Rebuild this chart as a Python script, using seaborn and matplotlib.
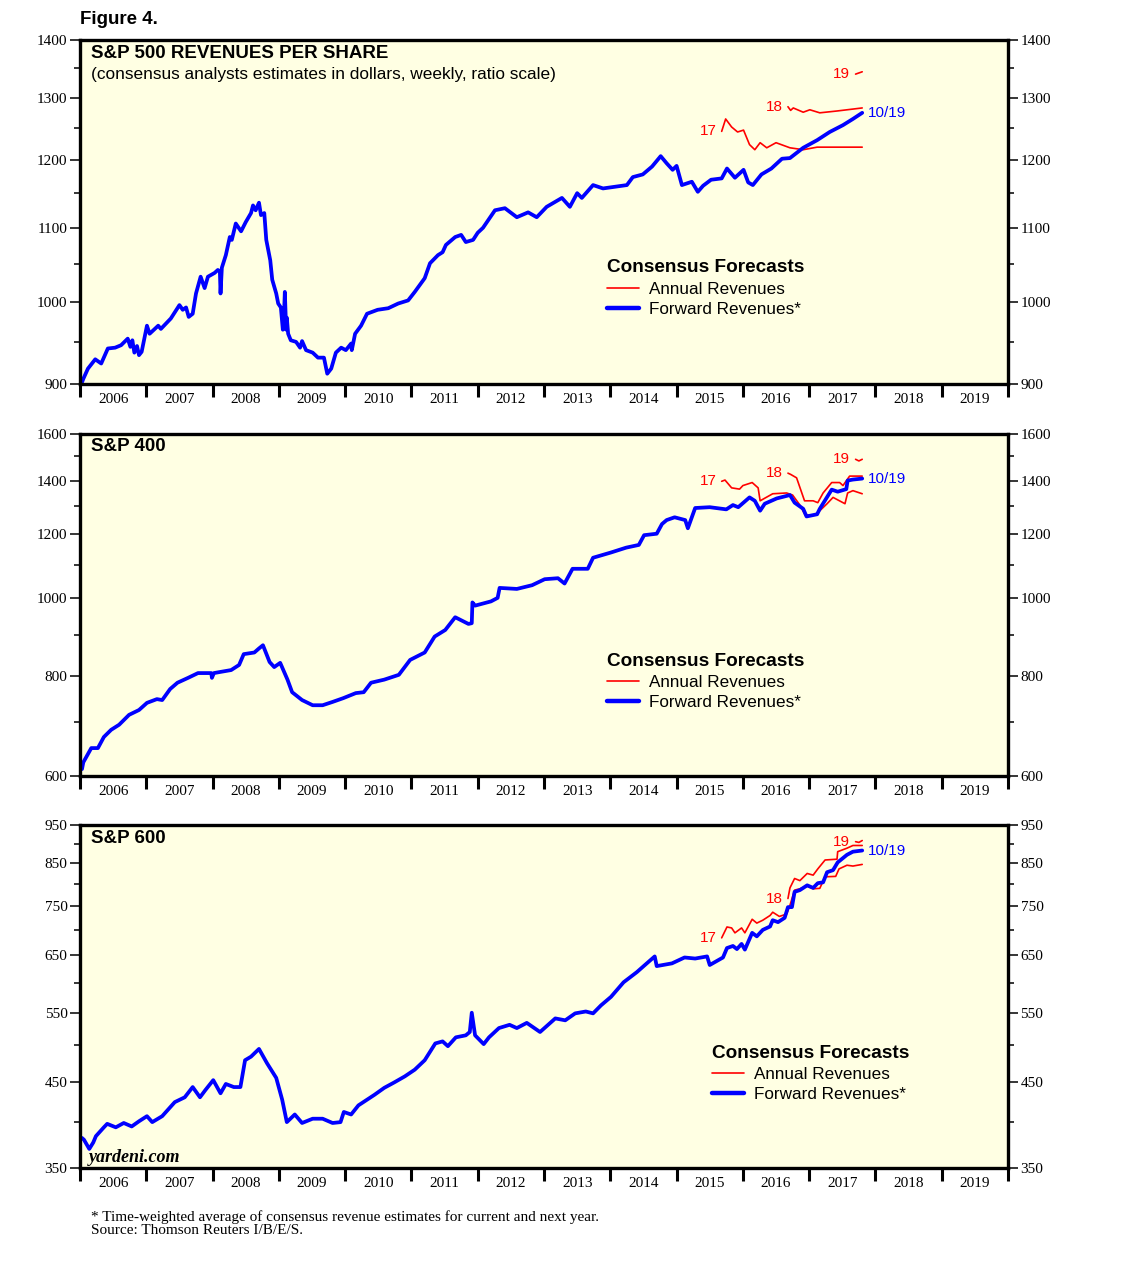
import matplotlib
matplotlib.use("Agg")
import matplotlib.pyplot as plt
import matplotlib.ticker as mticker
from matplotlib.lines import Line2D
import seaborn as sns

# values: time in decimal years, dollars per share

# S&P 500
sp500_fwd_t = [2006.03, 2006.05, 2006.12, 2006.23, 2006.32, 2006.42, 2006.53, 2006.62, 2006.72, 2006.76,
               2006.79, 2006.82, 2006.86, 2006.89, 2006.93, 2006.98, 2007.01, 2007.05, 2007.18, 2007.22,
               2007.37, 2007.50, 2007.55, 2007.60, 2007.64, 2007.70, 2007.75, 2007.82, 2007.88, 2007.93,
               2008.03, 2008.08, 2008.11, 2008.12, 2008.14, 2008.20, 2008.26, 2008.29, 2008.35, 2008.43,
               2008.50, 2008.58, 2008.61, 2008.65, 2008.70, 2008.73, 2008.78, 2008.81, 2008.87, 2008.90,
               2008.96, 2008.99, 2009.03, 2009.06, 2009.08, 2009.09, 2009.11, 2009.12, 2009.14, 2009.18,
               2009.26, 2009.32, 2009.35, 2009.41, 2009.51, 2009.59, 2009.68, 2009.73, 2009.79, 2009.86,
               2009.94, 2010.01, 2010.09, 2010.10, 2010.15, 2010.24, 2010.33, 2010.49, 2010.65, 2010.80,
               2010.95, 2011.05, 2011.20, 2011.28, 2011.40, 2011.47, 2011.52, 2011.66, 2011.75, 2011.82,
               2011.93, 2012.00, 2012.08, 2012.26, 2012.41, 2012.59, 2012.76, 2012.89, 2013.04, 2013.27,
               2013.39, 2013.50, 2013.57, 2013.74, 2013.89, 2014.10, 2014.25, 2014.34, 2014.49, 2014.63,
               2014.76, 2014.85, 2014.94, 2015.00, 2015.08, 2015.23, 2015.32, 2015.40, 2015.52, 2015.68,
               2015.76, 2015.88, 2016.01, 2016.08, 2016.15, 2016.28, 2016.43, 2016.59, 2016.71, 2016.91,
               2017.12, 2017.31, 2017.51, 2017.66, 2017.80]
sp500_fwd_v = [902, 906, 918, 929, 924, 942, 943, 946, 954, 944,
               952, 937, 945, 934, 938, 958, 970, 960, 970, 966,
               979, 996, 990, 993, 981, 985, 1011, 1033, 1018, 1033,
               1038, 1042, 1040, 1011, 1045, 1062, 1087, 1083, 1106, 1095,
               1108, 1121, 1132, 1125, 1136, 1118, 1121, 1083, 1055, 1029,
               1011, 998, 993, 965, 990, 1013, 965, 980, 960, 952,
               950, 943, 951, 940, 937, 931, 931, 912, 918, 937,
               943, 940, 948, 940, 960, 970, 985, 990, 992, 998,
               1002, 1013, 1031, 1051, 1062, 1066, 1076, 1087, 1090, 1080,
               1083, 1093, 1100, 1125, 1128, 1115, 1122, 1115, 1130, 1143,
               1130, 1150, 1143, 1162, 1157, 1160, 1162, 1174, 1178, 1190,
               1206, 1195, 1185, 1191, 1162, 1167, 1152, 1161, 1170, 1172,
               1187, 1173, 1185, 1166, 1162, 1178, 1187, 1202, 1203, 1219,
               1231, 1244, 1255, 1265, 1275]
sp500_y17_t = [2015.68, 2015.74, 2015.83, 2015.92, 2016.01, 2016.10, 2016.18, 2016.26, 2016.36, 2016.50,
               2016.71, 2016.91, 2017.12, 2017.42, 2017.80]
sp500_y17_v = [1245, 1265, 1252, 1244, 1247, 1224, 1216, 1227, 1219, 1227,
               1219, 1216, 1220, 1220, 1220]
sp500_y18_t = [2016.68, 2016.72, 2016.76, 2016.91, 2017.01, 2017.16, 2017.42, 2017.80]
sp500_y18_v = [1285, 1279, 1283, 1276, 1280, 1275, 1278, 1283]
sp500_y19_t = [2017.70, 2017.80]
sp500_y19_v = [1340, 1344]

# S&P 400
sp400_fwd_t = [2006.03, 2006.05, 2006.17, 2006.27, 2006.36, 2006.47, 2006.59, 2006.74, 2006.89, 2007.01,
               2007.16, 2007.24, 2007.36, 2007.47, 2007.63, 2007.78, 2007.98, 2007.99, 2008.02, 2008.13,
               2008.28, 2008.40, 2008.47, 2008.63, 2008.70, 2008.76, 2008.86, 2008.93, 2009.02, 2009.13,
               2009.20, 2009.35, 2009.51, 2009.66, 2009.81, 2009.97, 2010.16, 2010.28, 2010.39, 2010.59,
               2010.81, 2010.98, 2011.20, 2011.35, 2011.51, 2011.66, 2011.86, 2011.91, 2011.92, 2011.96,
               2012.20, 2012.30, 2012.33, 2012.59, 2012.82, 2013.01, 2013.21, 2013.31, 2013.43, 2013.66,
               2013.74, 2014.01, 2014.24, 2014.43, 2014.51, 2014.70, 2014.78, 2014.85, 2014.97, 2015.13,
               2015.17, 2015.28, 2015.50, 2015.75, 2015.85, 2015.93, 2016.10, 2016.18, 2016.26, 2016.33,
               2016.51, 2016.71, 2016.78, 2016.91, 2016.96, 2017.12, 2017.16, 2017.34, 2017.43, 2017.56,
               2017.58, 2017.66, 2017.80]
sp400_fwd_v = [612, 624, 650, 650, 671, 685, 695, 715, 725, 740,
               748, 746, 770, 784, 795, 806, 806, 795, 806, 809,
               813, 825, 851, 855, 865, 873, 832, 820, 830, 791,
               763, 746, 735, 735, 742, 750, 761, 763, 784, 791,
               802, 837, 855, 895, 912, 946, 928, 930, 987, 978,
               990, 1000, 1029, 1026, 1037, 1055, 1058, 1042, 1087, 1087,
               1122, 1139, 1155, 1164, 1197, 1202, 1236, 1250, 1260, 1250,
               1221, 1294, 1297, 1289, 1305, 1297, 1334, 1321, 1284, 1310,
               1330, 1343, 1314, 1291, 1263, 1271, 1291, 1364, 1356, 1366,
               1400, 1404, 1408]
sp400_y17_t = [2015.68, 2015.73, 2015.83, 2015.95, 2016.00, 2016.14, 2016.23, 2016.26, 2016.45, 2016.66,
               2016.75, 2016.86, 2016.94, 2017.07, 2017.13, 2017.27, 2017.36, 2017.54, 2017.58, 2017.66,
               2017.80]
sp400_y17_v = [1397, 1402, 1371, 1366, 1380, 1392, 1371, 1321, 1348, 1351,
               1343, 1305, 1268, 1268, 1277, 1310, 1334, 1310, 1351, 1360,
               1348]
sp400_y18_t = [2016.68, 2016.72, 2016.81, 2016.93, 2017.06, 2017.13, 2017.21, 2017.34, 2017.46, 2017.51,
               2017.61, 2017.80]
sp400_y18_v = [1430, 1425, 1411, 1321, 1321, 1314, 1351, 1392, 1392, 1380,
               1418, 1418]
sp400_y19_t = [2017.70, 2017.75, 2017.80]
sp400_y19_v = [1488, 1481, 1488]

# S&P 600
sp600_fwd_t = [2006.03, 2006.06, 2006.14, 2006.20, 2006.24, 2006.36, 2006.41, 2006.54, 2006.66, 2006.78,
               2006.89, 2007.01, 2007.09, 2007.24, 2007.43, 2007.58, 2007.70, 2007.81, 2007.89, 2008.01,
               2008.12, 2008.20, 2008.32, 2008.42, 2008.49, 2008.58, 2008.70, 2008.82, 2008.96, 2009.05,
               2009.12, 2009.24, 2009.35, 2009.51, 2009.66, 2009.81, 2009.93, 2009.98, 2010.09, 2010.20,
               2010.44, 2010.59, 2010.74, 2010.90, 2011.05, 2011.20, 2011.36, 2011.47, 2011.55, 2011.67,
               2011.82, 2011.88, 2011.91, 2011.96, 2012.09, 2012.17, 2012.32, 2012.48, 2012.59, 2012.74,
               2012.94, 2013.17, 2013.32, 2013.47, 2013.63, 2013.74, 2013.86, 2014.01, 2014.20, 2014.40,
               2014.55, 2014.67, 2014.70, 2014.93, 2015.12, 2015.28, 2015.46, 2015.50, 2015.70, 2015.76,
               2015.85, 2015.91, 2015.98, 2016.03, 2016.14, 2016.21, 2016.30, 2016.41, 2016.45, 2016.53,
               2016.63, 2016.68, 2016.74, 2016.78, 2016.86, 2016.97, 2017.06, 2017.13, 2017.21, 2017.27,
               2017.36, 2017.43, 2017.57, 2017.66, 2017.80]
sp600_fwd_v = [382, 380, 370, 377, 384, 394, 398, 394, 399, 395,
               401, 407, 400, 407, 424, 430, 443, 430, 439, 452,
               435, 447, 443, 443, 479, 484, 495, 475, 455, 427,
               400, 409, 399, 404, 404, 399, 400, 412, 409, 420,
               433, 442, 449, 457, 466, 479, 503, 506, 499, 512,
               515, 520, 550, 515, 502, 512, 526, 531, 526, 534,
               520, 541, 538, 549, 552, 549, 562, 576, 601, 619,
               635, 648, 630, 635, 646, 644, 648, 632, 646, 664,
               668, 662, 672, 661, 694, 687, 700, 707, 720, 716,
               725, 748, 748, 782, 786, 797, 791, 802, 804, 828,
               833, 852, 871, 879, 882]
sp600_y17_t = [2015.68, 2015.76, 2015.83, 2015.88, 2015.98, 2016.03, 2016.14, 2016.21, 2016.30, 2016.41,
               2016.45, 2016.55, 2016.66, 2016.71, 2016.78, 2016.86, 2016.97, 2017.06, 2017.16, 2017.24,
               2017.40, 2017.45, 2017.57, 2017.66, 2017.80]
sp600_y17_v = [684, 706, 704, 694, 704, 694, 722, 714, 720, 730,
               737, 728, 733, 752, 786, 789, 795, 789, 790, 817,
               818, 836, 845, 843, 847]
sp600_y18_t = [2016.68, 2016.71, 2016.78, 2016.86, 2016.97, 2017.06, 2017.13, 2017.24, 2017.42, 2017.43,
               2017.57, 2017.66, 2017.80]
sp600_y18_v = [767, 791, 813, 808, 825, 821, 836, 858, 860, 879,
               888, 895, 895]
sp600_y19_t = [2017.70, 2017.75, 2017.80]
sp600_y19_v = [905, 903, 908]

years = list(range(2006, 2020))
year_labels = [str(y) for y in years]

BLUE = "#0000FF"
RED = "#FF0000"
BG = "#FFFFE3"

sns.set_style("ticks")
plt.rcParams["font.family"] = ["Liberation Sans", "DejaVu Sans"]
plt.rcParams.update({"text.color": "black", "axes.edgecolor": "black",
                     "xtick.color": "black", "ytick.color": "black",
                     "axes.labelcolor": "black"})
serif = ["Liberation Serif", "DejaVu Serif"]

fig = plt.figure(figsize=(11.38, 12.64), dpi=100)


def draw_panel(pos, fwd_t, fwd_v, annual, ylim, major, minor, title, legend_xy, subtitle=None):
    ax = fig.add_axes(pos)
    ax.set_facecolor(BG)
    for lab, t, v in annual:
        sns.lineplot(x=t, y=v, ax=ax, color=RED, linewidth=1.2, estimator=None, sort=False)
        ax.text(t[0] - 0.08, v[0], lab, color=RED, fontsize=11, ha="right", va="center")
    sns.lineplot(x=fwd_t, y=fwd_v, ax=ax, color=BLUE, linewidth=2.7, estimator=None, sort=False)
    ax.text(fwd_t[-1] + 0.08, fwd_v[-1], "10/19", color=BLUE, fontsize=11, ha="left", va="center")

    ax.set_yscale("log")
    ax.set_ylim(*ylim)
    ax.set_xlim(2006, 2020)
    ax.set_xlabel("")
    ax.set_ylabel("")

    ax.yaxis.set_major_locator(mticker.FixedLocator(major))
    ax.yaxis.set_major_formatter(mticker.FixedFormatter([str(m) for m in major]))
    ax.yaxis.set_minor_locator(mticker.FixedLocator(minor))
    ax.yaxis.set_minor_formatter(mticker.NullFormatter())
    ax.tick_params(axis="y", which="both", direction="out", left=True, right=True,
                   labelleft=True, labelright=True, width=1.1, labelsize=11)
    ax.tick_params(axis="y", which="major", length=7, pad=2)
    ax.tick_params(axis="y", which="minor", length=4)

    ax.xaxis.set_major_locator(mticker.FixedLocator(range(2006, 2021)))
    ax.xaxis.set_major_formatter(mticker.NullFormatter())
    ax.xaxis.set_minor_locator(mticker.FixedLocator([y + 0.5 for y in years]))
    ax.xaxis.set_minor_formatter(mticker.FixedFormatter(year_labels))
    ax.tick_params(axis="x", which="major", direction="out", length=9, width=2.2)
    ax.tick_params(axis="x", which="minor", length=0, pad=6.5, labelsize=11)
    for lbl in ax.get_xticklabels(minor=True) + ax.get_yticklabels():
        lbl.set_family(serif)

    for sp in ax.spines.values():
        sp.set_visible(True)
        sp.set_linewidth(2.4)
        sp.set_color("black")

    ax.text(0.012, 0.962, title, transform=ax.transAxes, fontsize=13.5,
            fontweight="bold", va="center", ha="left")
    if subtitle:
        ax.text(0.012, 0.901, subtitle, transform=ax.transAxes, fontsize=12.4,
                va="center", ha="left")

    handles = [Line2D([], [], color=RED, linewidth=1.2),
               Line2D([], [], color=BLUE, linewidth=3.2)]
    ax.legend(handles, ["Annual Revenues", "Forward Revenues*"],
              title="Consensus Forecasts", loc="upper left",
              bbox_to_anchor=legend_xy, frameon=False, fontsize=12.3,
              title_fontproperties={"weight": "bold", "size": 13.7},
              alignment="left", borderpad=0, handlelength=1.9,
              handletextpad=0.6, labelspacing=0.3, borderaxespad=0)
    return ax


draw_panel([0.0703, 0.6962, 0.8155, 0.27215], sp500_fwd_t, sp500_fwd_v,
           [("17", sp500_y17_t, sp500_y17_v), ("18", sp500_y18_t, sp500_y18_v),
            ("19", sp500_y19_t, sp500_y19_v)],
           (900, 1400), [900, 1000, 1100, 1200, 1300, 1400], [950, 1050, 1150, 1250, 1350],
           "S&P 500 REVENUES PER SHARE", (0.5675, 0.362),
           subtitle="(consensus analysts estimates in dollars, weekly, ratio scale)")

draw_panel([0.0703, 0.38608, 0.8155, 0.27057], sp400_fwd_t, sp400_fwd_v,
           [("17", sp400_y17_t, sp400_y17_v), ("18", sp400_y18_t, sp400_y18_v),
            ("19", sp400_y19_t, sp400_y19_v)],
           (600, 1600), [600, 800, 1000, 1200, 1400, 1600], [700, 900, 1100, 1300, 1500],
           "S&P 400", (0.5675, 0.359))

ax3 = draw_panel([0.0703, 0.07595, 0.8155, 0.27136], sp600_fwd_t, sp600_fwd_v,
                 [("17", sp600_y17_t, sp600_y17_v), ("18", sp600_y18_t, sp600_y18_v),
                  ("19", sp600_y19_t, sp600_y19_v)],
                 (350, 950), [350, 450, 550, 650, 750, 850, 950], [400, 500, 600, 700, 800, 900],
                 "S&P 600", (0.6805, 0.359))
ax3.text(0.009, 0.032, "yardeni.com", transform=ax3.transAxes, family=serif,
         fontsize=13, fontstyle="italic", fontweight="bold", va="center", ha="left")

fig.text(80 / 1138, 1 - 20 / 1264, "Figure 4.", fontsize=13.5, fontweight="bold",
         va="center", ha="left")
fig.text(91 / 1138, 1 - 1217 / 1264,
         "* Time-weighted average of consensus revenue estimates for current and next year.",
         family=serif, fontsize=11, va="center", ha="left")
fig.text(91 / 1138, 1 - 1231 / 1264, "Source: Thomson Reuters I/B/E/S.",
         family=serif, fontsize=11, va="center", ha="left")

fig.savefig("out.png", dpi=100, facecolor="white")
